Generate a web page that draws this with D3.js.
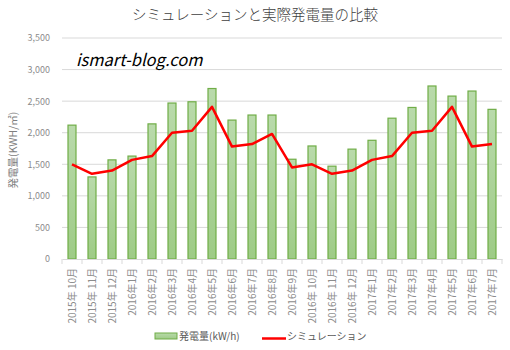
<!DOCTYPE html>
<html><head><meta charset="utf-8">
<script src="https://cdn.jsdelivr.net/npm/d3@7"></script>
<style>body{margin:0;background:#fff}svg{display:block}text{font-family:"Noto Sans CJK JP","Noto Sans",sans-serif}</style>
</head><body>
<script>
const categories = ["2015年 10月","2015年 11月","2015年 12月","2016年1月","2016年2月","2016年3月","2016年4月","2016年5月","2016年6月","2016年7月","2016年8月","2016年9月","2016年 10月","2016年 11月","2016年 12月","2017年1月","2017年2月","2017年3月","2017年4月","2017年5月","2017年6月","2017年7月"];
const actual = [2120,1300,1570,1630,2140,2470,2490,2700,2200,2280,2280,1580,1790,1470,1740,1880,2230,2400,2740,2580,2660,2370];
const simulation = [1500,1350,1400,1570,1630,2000,2030,2410,1780,1820,1980,1450,1500,1350,1400,1570,1630,2000,2030,2410,1780,1820];
const yTicks = [0,500,1000,1500,2000,2500,3000,3500];
const title = "シミュレーションと実際発電量の比較";
const watermark = "ismart-blog.com";
const yLabel = "発電量(KWH/㎡)";
const legendBar = "発電量(kW/h)";
const legendLine = "シミュレーション";

const W=510,H=350;
const svg=d3.select("body").append("svg").attr("width",W).attr("height",H);
const defs=svg.append("defs");
const g=defs.append("linearGradient").attr("id","bg").attr("x1",0).attr("y1",0).attr("x2",0).attr("y2",1);
g.append("stop").attr("offset","0%").attr("stop-color","#b9daab");
g.append("stop").attr("offset","100%").attr("stop-color","#9ecb86");

const x=d3.scaleBand().domain(categories).range([62,502]).paddingInner(0.6).paddingOuter(0.3);
const y=d3.scaleLinear().domain([0,3500]).range([259,38]);

svg.append("text").attr("x",255).attr("y",20).attr("text-anchor","middle").attr("font-size",14.5).attr("font-weight",300).attr("fill","#404040").text(title);

// grid
svg.append("g").selectAll("line").data(yTicks.filter(d=>d>0)).join("line")
  .attr("x1",62).attr("x2",502).attr("y1",d=>y(d)).attr("y2",d=>y(d)).attr("stroke","#d9d9d9").attr("stroke-width",1);

// y axis labels
const ya=svg.append("g").attr("transform","translate(62,0)").call(d3.axisLeft(y).tickValues(yTicks).tickSize(0).tickPadding(12).tickFormat(d3.format(",")));
ya.select(".domain").remove();
ya.selectAll("text").attr("font-size",9).attr("fill","#8c8c8c").attr("font-family","'Noto Sans',sans-serif");

svg.append("text").attr("transform","translate(17,150) rotate(-90)").attr("text-anchor","middle").attr("font-size",10.5).attr("fill","#7f7f7f").text(yLabel);

// bars
svg.append("g").selectAll("rect").data(actual).join("rect")
  .attr("x",(d,i)=>x(categories[i])).attr("width",x.bandwidth())
  .attr("y",d=>y(d)).attr("height",d=>y(0)-y(d))
  .attr("fill","url(#bg)").attr("stroke","#70ad47").attr("stroke-width",1.2);

// x axis
const xa=svg.append("g").attr("transform","translate(0,259)").call(d3.axisBottom(x).tickSize(0).tickPadding(0));
xa.select(".domain").attr("stroke","#d9d9d9");
xa.selectAll(".tick text").attr("font-size",10).attr("fill","#8c8c8c")
  .attr("transform","rotate(-90)").attr("text-anchor","end").attr("x",-9).attr("y",0).attr("dy","0.35em");
svg.append("g").selectAll("line").data(d3.range(categories.length+1)).join("line")
  .attr("x1",i=>x.range()[0]+i*x.step()).attr("x2",i=>x.range()[0]+i*x.step()).attr("y1",259).attr("y2",264).attr("stroke","#d9d9d9");

// line
const line=d3.line().x((d,i)=>x(categories[i])+x.bandwidth()/2).y(d=>y(d));
svg.append("path").datum(simulation).attr("d",line).attr("fill","none").attr("stroke","#ff0000").attr("stroke-width",2.5).attr("stroke-linejoin","round");

svg.append("text").attr("x",76).attr("y",66).attr("font-size",16.5).attr("font-style","italic").attr("fill","#000").attr("font-family","'Open Sans','Noto Sans',sans-serif").text(watermark);

// legend
svg.append("rect").attr("x",155).attr("y",333).attr("width",22).attr("height",6).attr("fill","url(#bg)").attr("stroke","#70ad47").attr("stroke-width",1);
svg.append("text").attr("x",179).attr("y",340).attr("font-size",10).attr("fill","#595959").text(legendBar);
svg.append("line").attr("x1",262).attr("x2",286).attr("y1",338.5).attr("y2",338.5).attr("stroke","#ff0000").attr("stroke-width",2.5);
svg.append("text").attr("x",287).attr("y",340).attr("font-size",10).attr("fill","#595959").text(legendLine);
</script>
</body></html>
